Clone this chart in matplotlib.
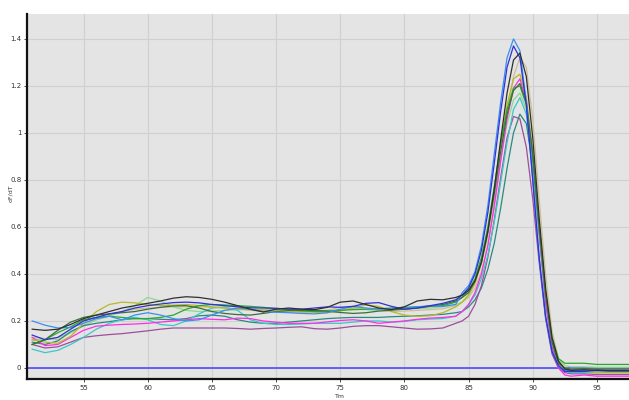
import numpy as np
import matplotlib
matplotlib.use("Agg")
import matplotlib.pyplot as plt

# temperature grid (deg C)
temps = [51, 52, 53, 54, 55, 56, 57, 58, 59, 60, 61, 62, 63, 64, 65, 66, 67,
         68, 69, 70, 71, 72, 73, 74, 75, 76, 77, 78, 79, 80, 81, 82, 83, 84,
         84.5, 85, 85.5, 86, 86.5, 87, 87.5, 88, 88.5, 89, 89.5, 90, 90.5,
         91, 91.5, 92, 92.5, 93, 94, 95, 96, 97, 97.6]

# -dF/dT per well: baseline 51..84, then melt peak 84.5..93, then tail
light_blue = [0.2, 0.182, 0.17, 0.172, 0.19, 0.21, 0.22, 0.205, 0.225, 0.235, 0.225, 0.21, 0.2, 0.205, 0.225, 0.245, 0.255,
              0.25, 0.24, 0.237, 0.235, 0.232, 0.23, 0.235, 0.25, 0.262, 0.255, 0.25, 0.252, 0.255, 0.26, 0.265, 0.262, 0.27,
              0.32, 0.35, 0.41, 0.52, 0.69, 0.91, 1.13, 1.32, 1.40, 1.35, 1.13, 0.80, 0.47, 0.22, 0.07, 0.01, -0.01, -0.012,
              -0.01, -0.012, -0.012, -0.012, -0.012]
dark_blue = [0.14, 0.12, 0.13, 0.165, 0.2, 0.215, 0.23, 0.24, 0.255, 0.265, 0.272, 0.278, 0.28, 0.277, 0.27, 0.265, 0.26,
             0.256, 0.255, 0.254, 0.25, 0.25, 0.255, 0.26, 0.258, 0.262, 0.275, 0.278, 0.262, 0.25, 0.255, 0.265, 0.275, 0.29,
             0.31, 0.34, 0.40, 0.50, 0.66, 0.87, 1.09, 1.28, 1.37, 1.32, 1.12, 0.80, 0.47, 0.22, 0.07, 0.01, -0.015, -0.015,
             -0.015, -0.01, -0.012, -0.012, -0.012]
black = [0.165, 0.16, 0.165, 0.185, 0.21, 0.225, 0.24, 0.255, 0.265, 0.275, 0.285, 0.297, 0.303, 0.3, 0.292, 0.28, 0.265,
         0.25, 0.238, 0.25, 0.255, 0.25, 0.248, 0.258, 0.28, 0.285, 0.27, 0.255, 0.248, 0.26, 0.285, 0.292, 0.29, 0.3,
         0.31, 0.33, 0.37, 0.45, 0.58, 0.76, 0.97, 1.17, 1.31, 1.34, 1.24, 0.98, 0.64, 0.34, 0.13, 0.03, -0.005, -0.01,
         -0.008, -0.01, -0.012, -0.012, -0.012]
tan = [0.13, 0.125, 0.12, 0.15, 0.18, 0.205, 0.225, 0.24, 0.25, 0.255, 0.258, 0.26, 0.26, 0.26, 0.258, 0.255, 0.25,
       0.245, 0.242, 0.24, 0.237, 0.235, 0.24, 0.245, 0.258, 0.255, 0.25, 0.245, 0.24, 0.242, 0.245, 0.248, 0.252, 0.265,
       0.28, 0.3, 0.34, 0.41, 0.52, 0.68, 0.88, 1.08, 1.24, 1.32, 1.28, 1.06, 0.72, 0.40, 0.16, 0.04, 0.0, -0.005,
       -0.005, -0.006, -0.006, -0.006, -0.006]
olive = [0.12, 0.11, 0.105, 0.135, 0.19, 0.24, 0.27, 0.28, 0.277, 0.27, 0.265, 0.267, 0.27, 0.265, 0.26, 0.255, 0.25,
         0.248, 0.246, 0.245, 0.243, 0.24, 0.237, 0.235, 0.242, 0.255, 0.268, 0.262, 0.24, 0.225, 0.22, 0.222, 0.235, 0.26,
         0.28, 0.31, 0.36, 0.45, 0.58, 0.76, 0.95, 1.12, 1.23, 1.25, 1.15, 0.92, 0.60, 0.31, 0.11, 0.02, -0.01, -0.015,
         -0.015, -0.02, -0.02, -0.02, -0.02]
magenta = [0.13, 0.095, 0.1, 0.13, 0.16, 0.178, 0.182, 0.185, 0.187, 0.19, 0.195, 0.2, 0.205, 0.21, 0.207, 0.205, 0.212,
           0.21, 0.2, 0.195, 0.19, 0.19, 0.19, 0.196, 0.202, 0.205, 0.2, 0.19, 0.195, 0.2, 0.207, 0.212, 0.215, 0.22,
           0.24, 0.27, 0.32, 0.40, 0.52, 0.69, 0.88, 1.06, 1.19, 1.23, 1.14, 0.90, 0.58, 0.28, 0.09, 0.0, -0.03, -0.035,
           -0.03, -0.035, -0.035, -0.035, -0.035]
green = [0.1, 0.12, 0.15, 0.175, 0.205, 0.215, 0.22, 0.215, 0.21, 0.21, 0.215, 0.225, 0.25, 0.265, 0.27, 0.268, 0.265,
         0.262, 0.258, 0.252, 0.248, 0.243, 0.24, 0.242, 0.245, 0.248, 0.25, 0.252, 0.255, 0.258, 0.26, 0.262, 0.265, 0.28,
         0.30, 0.33, 0.38, 0.47, 0.60, 0.77, 0.95, 1.10, 1.19, 1.20, 1.12, 0.90, 0.60, 0.32, 0.13, 0.04, 0.02, 0.02,
         0.02, 0.015, 0.015, 0.015, 0.015]
dark_green = [0.1, 0.12, 0.16, 0.195, 0.215, 0.225, 0.23, 0.235, 0.24, 0.25, 0.258, 0.264, 0.265, 0.255, 0.24, 0.232, 0.227,
              0.225, 0.232, 0.24, 0.244, 0.245, 0.245, 0.242, 0.236, 0.232, 0.235, 0.242, 0.246, 0.25, 0.255, 0.262, 0.27, 0.285,
              0.30, 0.32, 0.37, 0.45, 0.58, 0.74, 0.92, 1.08, 1.18, 1.21, 1.13, 0.91, 0.60, 0.31, 0.11, 0.02, 0.0, -0.005,
              -0.003, -0.005, -0.005, -0.005, -0.005]
light_green = [0.12, 0.12, 0.13, 0.15, 0.18, 0.205, 0.22, 0.24, 0.265, 0.3, 0.285, 0.26, 0.245, 0.24, 0.242, 0.245, 0.248,
               0.25, 0.248, 0.245, 0.242, 0.24, 0.243, 0.245, 0.248, 0.25, 0.248, 0.245, 0.247, 0.25, 0.253, 0.255, 0.26, 0.27,
               0.28, 0.31, 0.36, 0.44, 0.56, 0.72, 0.89, 1.04, 1.14, 1.17, 1.10, 0.90, 0.61, 0.33, 0.13, 0.04, 0.01, 0.005,
               0.005, 0.003, 0.003, 0.003, 0.003]
cyan = [0.08, 0.065, 0.075, 0.1, 0.13, 0.165, 0.19, 0.205, 0.215, 0.205, 0.185, 0.18, 0.2, 0.23, 0.255, 0.26, 0.245,
        0.205, 0.19, 0.185, 0.185, 0.187, 0.19, 0.19, 0.19, 0.195, 0.2, 0.2, 0.195, 0.198, 0.205, 0.208, 0.21, 0.22,
        0.24, 0.27, 0.31, 0.38, 0.48, 0.62, 0.79, 0.96, 1.10, 1.15, 1.08, 0.86, 0.56, 0.27, 0.09, 0.01, -0.015, -0.02,
        -0.02, -0.02, -0.02, -0.02, -0.02]
purple = [0.1, 0.085, 0.09, 0.11, 0.13, 0.137, 0.142, 0.146, 0.152, 0.158, 0.165, 0.17, 0.17, 0.17, 0.17, 0.17, 0.168,
          0.165, 0.168, 0.17, 0.173, 0.175, 0.167, 0.165, 0.17, 0.177, 0.18, 0.18, 0.175, 0.17, 0.165, 0.166, 0.17, 0.19,
          0.2, 0.22, 0.27, 0.35, 0.47, 0.63, 0.81, 0.98, 1.07, 1.06, 0.94, 0.72, 0.45, 0.21, 0.06, 0.0, -0.02, -0.025,
          -0.025, -0.028, -0.028, -0.028, -0.028]
teal = [0.11, 0.1, 0.115, 0.155, 0.18, 0.19, 0.197, 0.205, 0.21, 0.21, 0.207, 0.205, 0.21, 0.222, 0.225, 0.22, 0.205,
        0.195, 0.19, 0.19, 0.195, 0.2, 0.205, 0.21, 0.213, 0.215, 0.215, 0.215, 0.218, 0.22, 0.222, 0.225, 0.228, 0.235,
        0.24, 0.26, 0.29, 0.34, 0.42, 0.53, 0.68, 0.85, 1.00, 1.08, 1.04, 0.86, 0.58, 0.30, 0.11, 0.02, -0.005, -0.01,
        -0.01, -0.012, -0.012, -0.012, -0.012]

wells = [
    (tan, "#cdbf95"),
    (light_green, "#8fd88f"),
    (teal, "#2a8a80"),
    (purple, "#9c4f9c"),
    (cyan, "#38c8c8"),
    (magenta, "#ff2ee6"),
    (olive, "#b8b82a"),
    (green, "#2aa82a"),
    (dark_green, "#3c6e3c"),
    (light_blue, "#3a8ef0"),
    (dark_blue, "#3030d8"),
    (black, "#303030"),
]

x_ticks = [55, 60, 65, 70, 75, 80, 85, 90, 95]
y_ticks = [0, 0.2, 0.4, 0.6, 0.8, 1.0, 1.2, 1.4]
y_tick_labels = ["0", "0.2", "0.4", "0.6", "0.8", "1", "1.2", "1.4"]

fig = plt.figure(figsize=(6.29, 4.0), dpi=100)
ax = fig.add_axes([0.043, 0.0525, 0.957, 0.9125])
ax.set_facecolor("#e4e4e4")

ax.axhline(0, color="#4b4bff", lw=1.2, zorder=2)
for vals, col in wells:
    ax.plot(temps, vals, color=col, lw=0.9, zorder=3)

ax.set_xlim(50.6, 97.5)
ax.set_ylim(-0.047, 1.506)
ax.set_xticks(x_ticks)
ax.set_yticks(y_ticks)
ax.set_yticklabels(y_tick_labels)
ax.grid(True, color="#d0d0d0", lw=0.8)
ax.set_axisbelow(True)

for s in ["top", "right"]:
    ax.spines[s].set_visible(False)
for s in ["left", "bottom"]:
    ax.spines[s].set_linewidth(1.6)
    ax.spines[s].set_color("#111111")
ax.tick_params(axis="both", labelsize=5, length=2, width=0.6, color="#333333",
               labelcolor="#333333", pad=2)

fig.text(11 / 629, 1 - 193 / 400, "dF/dT", rotation=90, fontsize=4.5,
         ha="center", va="center", color="#333333")
fig.text(340 / 629, 0.003, "Tm", fontsize=4.5, ha="center", va="bottom", color="#333333")

fig.savefig("out.png", dpi=100, facecolor="white")
